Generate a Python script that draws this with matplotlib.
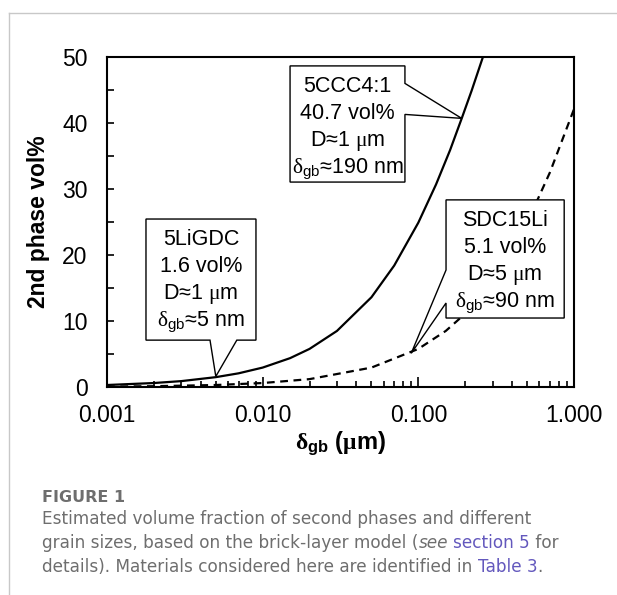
import numpy as np
import matplotlib.pyplot as plt
from matplotlib.patches import Polygon
from matplotlib.lines import Line2D
from matplotlib.ticker import FixedLocator, FixedFormatter, LogLocator, NullFormatter

plt.rcParams['font.family'] = 'Liberation Sans'
plt.rcParams['mathtext.fontset'] = 'custom'
plt.rcParams['mathtext.rm'] = 'Liberation Serif'
plt.rcParams['mathtext.it'] = 'Liberation Serif:italic'
plt.rcParams['mathtext.bf'] = 'Liberation Serif:bold'
plt.rcParams['mathtext.sf'] = 'Liberation Sans:bold'
plt.rcParams['mathtext.tt'] = 'Liberation Sans'

# --- data -----------------------------------------------------------------
# grain size D = 1 um (solid)
delta_1um = [0.001, 0.002, 0.003, 0.005, 0.007, 0.01, 0.015, 0.02, 0.03,
             0.05, 0.07, 0.1, 0.13, 0.16, 0.19, 0.22, 0.26]
vol_1um = [0.30, 0.60, 0.89, 1.49, 2.07, 2.94, 4.37, 5.77, 8.49,
           13.6, 18.4, 24.9, 30.7, 35.9, 40.7, 44.9, 50.0]

# grain size D = 5 um (dashed)
delta_5um = [0.001, 0.002, 0.005, 0.01, 0.02, 0.05, 0.1, 0.15, 0.2,
             0.3, 0.5, 0.7, 1.0]
vol_5um = [0.06, 0.12, 0.30, 0.60, 1.19, 2.94, 5.77, 8.49, 11.1,
           16.0, 24.9, 32.5, 42.1]

x_ticks = [0.001, 0.01, 0.1, 1.0]
x_tick_labels = ['0.001', '0.010', '0.100', '1.000']
y_ticks = [0, 10, 20, 30, 40, 50]

# materials marked with call-outs
materials = ['5LiGDC', '5CCC4:1', 'SDC15Li']
mat_vol = [1.6, 40.7, 5.1]
mat_D = [1, 1, 5]
mat_delta_nm = [5, 190, 90]

# call-out boxes (axes fraction): (x0, y0, x1, y1), pointer side, pointer base
callout_layout = {
    '5LiGDC': ((0.0835, 0.142, 0.319, 0.509), 'bottom', (0.2206, 0.278)),
    '5CCC4:1': ((0.392, 0.621, 0.638, 0.973), 'right', (0.826, 0.920)),
    'SDC15Li': ((0.726, 0.209, 0.979, 0.567), 'left', (0.2545, 0.3545)),
}

# --- figure -----------------------------------------------------------------
fig = plt.figure(figsize=(6.17, 5.95), dpi=100)
ax = fig.add_axes([0.1734, 0.3496, 0.7569, 0.5546])

ax.plot(delta_1um, vol_1um, color='black', lw=1.6, zorder=3)
ax.plot(delta_5um, vol_5um, color='black', lw=1.6, dashes=(3.5, 2.5), zorder=3)

ax.set_xscale('log')
ax.set_xlim(0.001, 1.0)
ax.set_ylim(0, 50)

ax.xaxis.set_major_locator(FixedLocator(x_ticks))
ax.xaxis.set_major_formatter(FixedFormatter(x_tick_labels))
ax.xaxis.set_minor_locator(LogLocator(base=10, subs=np.arange(2, 10)))
ax.xaxis.set_minor_formatter(NullFormatter())
ax.yaxis.set_major_locator(FixedLocator(y_ticks))
ax.yaxis.set_minor_locator(FixedLocator(np.arange(5, 50, 10)))

ax.tick_params(which='both', direction='in', top=False, right=False,
               width=1.2, labelsize=16.5)
ax.tick_params(axis='x', which='major', length=7, pad=12)
ax.tick_params(axis='x', which='minor', length=4.5)
ax.tick_params(axis='y', which='both', length=5, pad=14)
for sp in ax.spines.values():
    sp.set_linewidth(1.5)

ax.set_xlabel(r'$\mathbf{\delta}_{\mathsf{gb}}$ ($\mathbf{\mu}$m)',
              fontsize=17, fontweight='bold', labelpad=2)
ax.set_ylabel('2nd phase vol%', fontsize=16.5, fontweight='bold', labelpad=9)

# --- call-outs --------------------------------------------------------------
ax_h_px = 0.5546 * 595
to_axes = ax.transAxes.inverted()
for name, v, d, dn in zip(materials, mat_vol, mat_D, mat_delta_nm):
    (x0, y0, x1, y1), side, (b0, b1) = callout_layout[name]
    tx, ty = to_axes.transform(ax.transData.transform((dn / 1000.0, v)))
    if side == 'bottom':
        verts = [(x0, y1), (x1, y1), (x1, y0), (b1, y0), (tx, ty), (b0, y0), (x0, y0)]
    elif side == 'right':
        verts = [(x0, y1), (x1, y1), (x1, b1), (tx, ty), (x1, b0), (x1, y0), (x0, y0)]
    else:
        verts = [(x0, y1), (x1, y1), (x1, y0), (x0, y0), (x0, b0), (tx, ty), (x0, b1)]
    ax.add_patch(Polygon(verts, closed=True, facecolor='white', edgecolor='black',
                         lw=1.0, transform=ax.transAxes, zorder=5, clip_on=False))
    lines = [name, f'{v} vol%', r'D≈%d $\mathrm{\mu}$m' % d,
             r'$\mathrm{\delta}_{\mathtt{gb}}$≈%d nm' % dn]
    cx = (x0 + x1) / 2
    for i, s in enumerate(lines):
        yb = y1 - (26 + 27 * i) / ax_h_px
        ax.text(cx, yb, s, transform=ax.transAxes, ha='center', va='baseline',
                fontsize=15.5, zorder=6)

# --- page frame and caption -------------------------------------------------
fig.add_artist(Line2D([9 / 617, 1], [1 - 13 / 595] * 2, color='#c8c8c8', lw=1))
fig.add_artist(Line2D([9 / 617] * 2, [0, 1 - 13 / 595], color='#c8c8c8', lw=1))

cap_font = 'DejaVu Sans'
cap_size = 12.2
gray = '#6e6e6e'
link = '#6358bd'
cap_x = 42 / 617
fig.text(cap_x, 1 - 502 / 595, 'FIGURE 1', family=cap_font, fontsize=11.5,
         fontweight='bold', color=gray, va='baseline')

renderer = fig.canvas.get_renderer()


def text_width(s, **kw):
    t = fig.text(0, 0, s + '|', **kw)
    w = t.get_window_extent(renderer).width
    t.remove()
    t = fig.text(0, 0, '|', **kw)
    w -= t.get_window_extent(renderer).width
    t.remove()
    return w / fig.bbox.width


caption_lines = [
    [('Estimated volume fraction of second phases and different', gray, 'normal')],
    [('grain sizes, based on the brick-layer model (', gray, 'normal'),
     ('see', gray, 'italic'), (' ', gray, 'normal'),
     ('section 5', link, 'normal'), (' for', gray, 'normal')],
    [('details). Materials considered here are identified in ', gray, 'normal'),
     ('Table 3', link, 'normal'), ('.', gray, 'normal')],
]
baselines = [524, 548, 572]
for parts, yb in zip(caption_lines, baselines):
    x = cap_x
    for s, c, st in parts:
        kw = dict(family=cap_font, fontsize=cap_size, color=c, style=st)
        fig.text(x, 1 - yb / 595, s, va='baseline', **kw)
        x += text_width(s, **kw)

fig.savefig('out.png', dpi=100)
